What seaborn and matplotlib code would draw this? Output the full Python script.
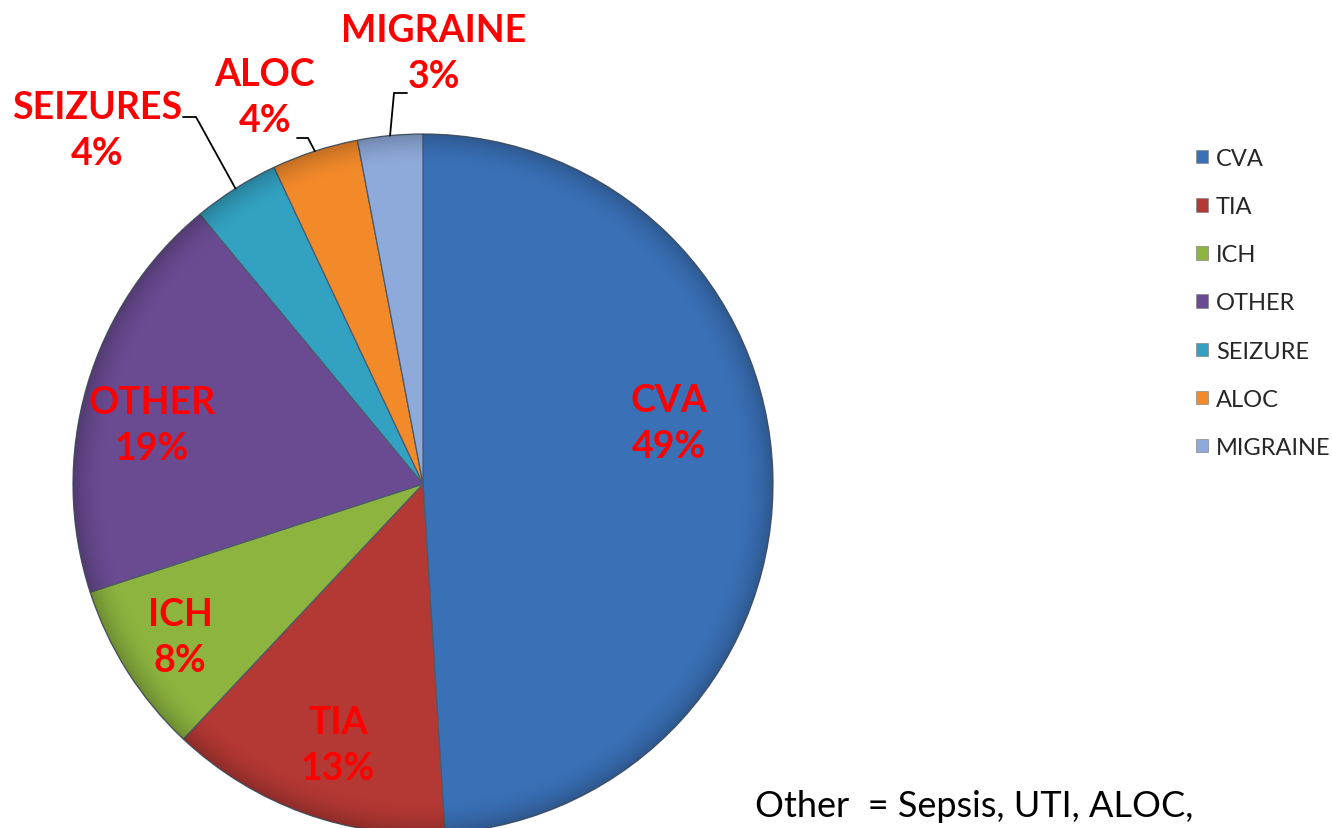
import matplotlib
matplotlib.use("Agg")
import matplotlib.pyplot as plt
from matplotlib.patches import Circle
import seaborn as sns
import numpy as np

# ---- data ----
categories = ["CVA", "TIA", "ICH", "OTHER", "SEIZURE", "ALOC", "MIGRAINE"]
slice_labels = ["CVA", "TIA", "ICH", "OTHER", "SEIZURES", "ALOC", "MIGRAINE"]
percent = [49, 13, 8, 19, 4, 4, 3]
footnote = "Other  = Sepsis, UTI, ALOC,"

# ---- style ----
colors = ["#3A70B6", "#B43834", "#8DB43F", "#6A4B92", "#33A2C2", "#F38A2A", "#8EAADA"]
W, H = 1332, 829
def P(x, y):
    return (x, H - y)

# label text centres (pixel coords), leader elbow/end for outside labels
label_pos = {
    "CVA": (669, 424), "TIA": (338, 746), "ICH": (180, 638), "OTHER": (152, 426),
    "SEIZURES": (97, 131), "ALOC": (265, 98), "MIGRAINE": (434, 54),
}
leaders = {
    "SEIZURES": [(196, 118), (183, 118)],
    "ALOC": [(308, 139), (297, 139)],
    "MIGRAINE": [(394, 94), (407, 94)],
}

sns.set_theme(style="white")
plt.rcParams["font.family"] = ["Lato", "DejaVu Sans"]

fig = plt.figure(figsize=(W / 100, H / 100), dpi=100)
ax = fig.add_axes([0, 0, 1, 1])
cx, cy = P(423, 485)
R = 350
wedges, _ = ax.pie(percent, colors=colors, startangle=90, counterclock=False,
                   center=(cx, cy), radius=R,
                   wedgeprops=dict(edgecolor="#4d5a6a", linewidth=0.9))
ax.set_xlim(0, W)
ax.set_ylim(0, H)
ax.set_aspect("auto")
ax.axis("off")

# subtle rim shading to hint at the bevelled look
yy, xx = np.mgrid[0:H, 0:W]
rr = np.hypot(xx - cx, yy - cy) / R
shade = np.zeros((H, W, 4))
shade[..., 3] = np.clip((rr - 0.90) / 0.10, 0, 1) ** 2 * 0.22
img = ax.imshow(shade, extent=(0, W, 0, H), origin="lower", zorder=2,
                interpolation="bilinear")
img.set_clip_path(Circle((cx, cy), R, transform=ax.transData))

for w, lab, pct in zip(wedges, slice_labels, percent):
    tx, ty = P(*label_pos[lab])
    ax.text(tx, ty, f"{lab}\n{pct}%", color="#FF0000", fontsize=27,
            fontweight="bold", ha="center", va="center", linespacing=1.42,
            zorder=5)
    if lab in leaders:
        mid = np.deg2rad((w.theta1 + w.theta2) / 2)
        ax_, ay_ = cx + R * np.cos(mid), cy + R * np.sin(mid)
        pts = [(ax_, ay_)] + [P(*p) for p in leaders[lab]]
        xs, ys = zip(*pts)
        ax.plot(xs, ys, color="black", lw=1.3, solid_joinstyle="miter", zorder=4)

leg = fig.legend(wedges, categories, loc="upper left",
                 bbox_to_anchor=(1196 / W, 1 - 149 / H), frameon=False,
                 fontsize=17, handlelength=0.5, handleheight=0.5,
                 handletextpad=0.35, labelspacing=1.15, borderpad=0,
                 borderaxespad=0)
for h in leg.legend_handles:
    h.set_edgecolor("#888888")
    h.set_linewidth(0.5)

fig.text(755 / W, 1 - 817 / H, footnote, fontsize=26, color="black",
         ha="left", va="baseline")

fig.savefig("out.png", dpi=100)
